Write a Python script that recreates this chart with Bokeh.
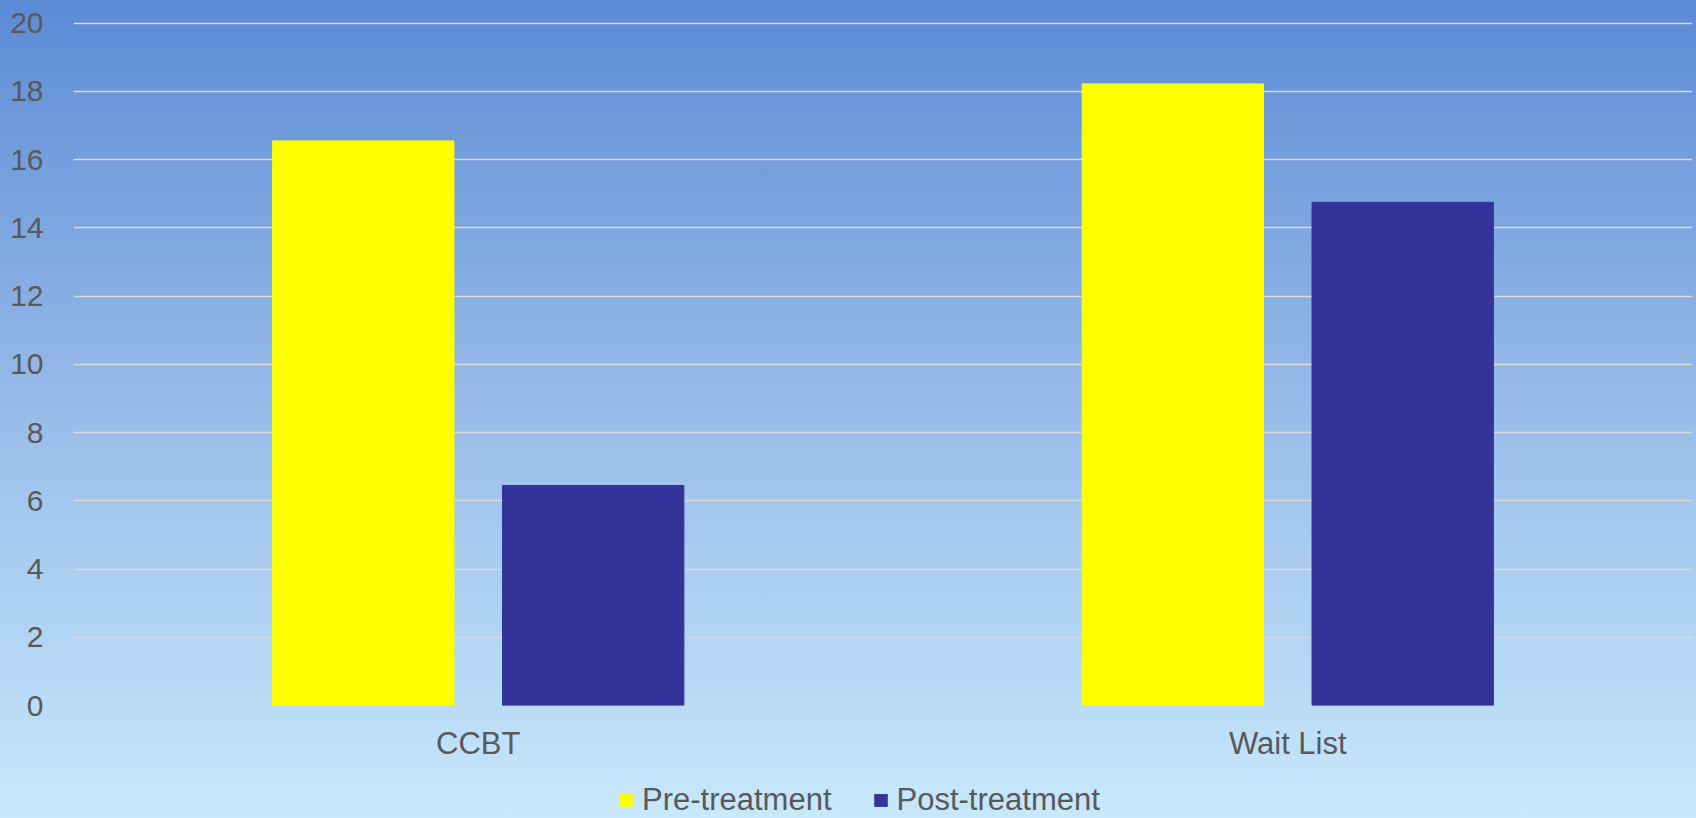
from bokeh.plotting import figure
from bokeh.layouts import column
from bokeh.models import (ColumnDataSource, FactorRange, Range1d, Legend, LegendItem,
                          SingleIntervalTicker)
from bokeh.transform import dodge
from bokeh.embed import file_html
from bokeh.resources import INLINE

# Mean scores per group, before and after treatment
groups = ["CCBT", "Wait List"]
pre_treatment = [16.55, 18.22]
post_treatment = [6.45, 14.75]
series_names = ["Pre-treatment", "Post-treatment"]
series_fields = ["pre", "post"]
series_colors = ["#FFFF00", "#333399"]

TEXT = "#595959"
FONT = "Liberation Sans"

source = ColumnDataSource(data=dict(group=groups, pre=pre_treatment, post=post_treatment))

W = 1696
H_MAIN, H_LEG = 765, 53
BAR_W, OFFSET = 0.224, 0.142
offsets = [-OFFSET, OFFSET]

p = figure(
    width=W, height=H_MAIN,
    x_range=FactorRange(*groups, range_padding=0),
    y_range=Range1d(0, 20.665),
    output_backend="svg", toolbar_location=None,
    min_border_left=73, min_border_right=4, min_border_top=0, min_border_bottom=60,
)
p.background_fill_alpha = 0
p.border_fill_alpha = 0
p.outline_line_color = None

for fld, off, col in zip(series_fields, offsets, series_colors):
    p.vbar(x=dodge("group", off, range=p.x_range), top=fld, width=BAR_W, source=source,
           fill_color=col, line_color=col)

# grid
p.xgrid.grid_line_color = None
p.ygrid.grid_line_color = "#d9d9d9"
p.ygrid.grid_line_width = 1.6
p.ygrid.level = "underlay"

# y axis
p.yaxis.ticker = SingleIntervalTicker(interval=2)
p.yaxis.axis_line_color = None
p.yaxis.major_tick_line_color = None
p.yaxis.minor_tick_line_color = None
p.yaxis.major_tick_out = 0
p.yaxis.major_label_standoff = 26
p.yaxis.major_label_text_font = FONT
p.yaxis.major_label_text_font_size = "30px"
p.yaxis.major_label_text_color = TEXT

# x axis
p.xaxis.axis_line_color = None
p.xaxis.major_tick_line_color = None
p.xaxis.major_tick_out = 0
p.xaxis.major_label_standoff = 20
p.xaxis.major_label_text_font = FONT
p.xaxis.major_label_text_font_size = "31px"
p.xaxis.major_label_text_color = TEXT

# legend strip under the chart; the swatch renderers are zero-width bars outside
# the strip's y range, so only the legend itself shows
lp = figure(
    width=W, height=H_LEG, x_range=FactorRange(*groups, range_padding=0),
    y_range=Range1d(-100, -99),
    x_axis_location=None, y_axis_location=None,
    output_backend="svg", toolbar_location=None, min_border=0,
)
lp.background_fill_alpha = 0
lp.border_fill_alpha = 0
lp.outline_line_color = None
lp.grid.visible = False
swatches = [
    lp.vbar(x=dodge("group", off, range=lp.x_range), top=fld, width=0, source=source,
            fill_color=col, line_color=None)
    for fld, off, col in zip(series_fields, offsets, series_colors)
]

legend = Legend(
    items=[LegendItem(label=n, renderers=[r]) for n, r in zip(series_names, swatches)],
    orientation="horizontal", location=(544, 0),
    label_text_font=FONT, label_text_font_size="31px", label_text_color=TEXT,
    glyph_width=17, glyph_height=16, label_standoff=8, spacing=40,
    padding=0, margin=0,
    border_line_color=None, background_fill_alpha=0,
)
lp.add_layout(legend)

page = column(p, lp, spacing=0)
page.styles = {"background": "linear-gradient(to bottom, #5c8ad5 0%, #98bce9 50%, #c8e8fc 100%)"}

open("out.html", "w").write(file_html(page, INLINE))
